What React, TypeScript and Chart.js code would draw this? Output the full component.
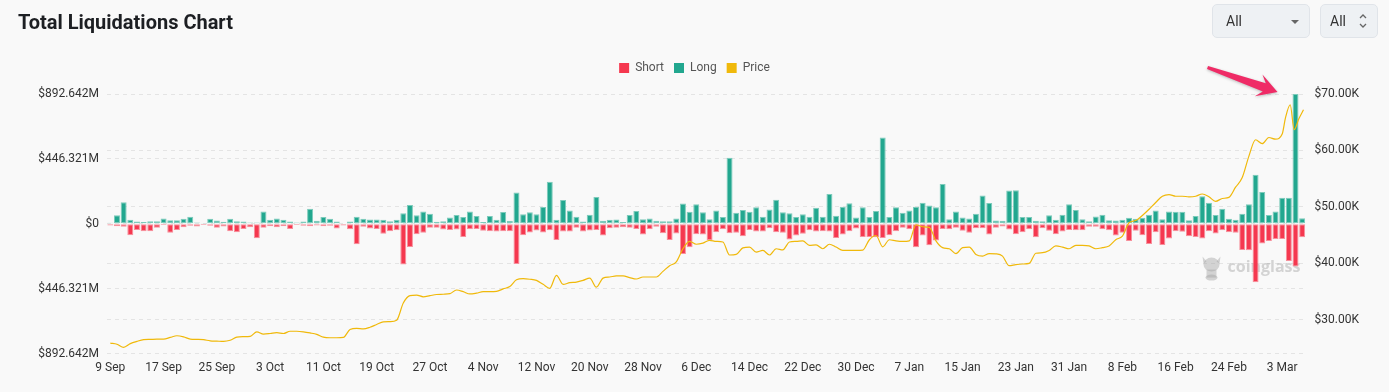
import React, { useEffect, useRef } from 'react';
import { Chart, registerables } from 'chart.js';

Chart.register(...registerables);

const MONTHS = ['Jan', 'Feb', 'Mar', 'Apr', 'May', 'Jun', 'Jul', 'Aug', 'Sep', 'Oct', 'Nov', 'Dec'];
const DAY_COUNT = 180;
// Categories: 9 Sep 2023 .. 6 Mar 2024, one per day
const dates: string[] = Array.from({ length: DAY_COUNT }, (_, i) => {
  const d = new Date(2023, 8, 9 + i);
  return `${d.getDate()} ${MONTHS[d.getMonth()]}`;
});

// Long liquidations (USD millions)
const longs: number[] = [
  7, 58, 148, 28, 16, 12, 18, 18, 37, 25,
  25, 35, 48, 9, 5, 35, 23, 14, 35, 18,
  16, 9, 9, 85, 28, 37, 28, 16, 9, 16,
  104, 21, 46, 35, 16, 3, 16, 48, 35, 30,
  30, 28, 18, 28, 72, 129, 58, 85, 69, 14,
  18, 44, 60, 46, 85, 53, 12, 53, 28, 81,
  21, 215, 65, 79, 65, 116, 289, 28, 164, 92,
  48, 16, 62, 185, 21, 28, 30, 12, 60, 88,
  32, 37, 21, 18, 18, 37, 139, 83, 134, 79,
  32, 92, 46, 455, 76, 95, 83, 113, 48, 99,
  166, 79, 72, 46, 65, 48, 111, 48, 205, 55,
  118, 141, 44, 113, 46, 88, 594, 46, 113, 76,
  92, 118, 145, 125, 113, 273, 32, 85, 44, 37,
  69, 194, 143, 23, 21, 229, 231, 46, 46, 21,
  18, 58, 28, 62, 134, 95, 32, 18, 51, 62,
  25, 23, 28, 42, 35, 42, 62, 92, 32, 85,
  83, 83, 25, 53, 189, 145, 60, 104, 35, 28,
  69, 134, 337, 219, 60, 85, 180, 180, 892.642, 39,
];

// Short liquidations (USD millions, drawn below zero)
const shorts: number[] = [
  12, 16, 21, 78, 42, 51, 51, 28, 9, 62,
  42, 23, 14, 18, 9, 14, 28, 18, 51, 58,
  35, 23, 99, 28, 16, 23, 16, 35, 9, 14,
  16, 12, 16, 14, 32, 12, 37, 141, 21, 32,
  35, 69, 51, 44, 280, 159, 72, 62, 28, 28,
  39, 42, 39, 90, 37, 35, 48, 51, 53, 51,
  51, 277, 78, 60, 46, 60, 44, 111, 53, 53,
  28, 53, 46, 42, 81, 30, 28, 23, 28, 35,
  74, 37, 21, 65, 111, 67, 208, 162, 72, 74,
  113, 58, 37, 65, 62, 85, 42, 53, 53, 30,
  58, 62, 108, 81, 69, 44, 53, 51, 53, 97,
  74, 51, 32, 90, 90, 92, 97, 78, 51, 28,
  37, 162, 81, 148, 115, 35, 37, 28, 48, 62,
  30, 30, 74, 28, 18, 39, 72, 58, 37, 92,
  30, 48, 72, 53, 42, 44, 44, 21, 21, 37,
  44, 81, 62, 118, 48, 78, 139, 58, 146, 101,
  51, 55, 85, 90, 101, 51, 67, 44, 58, 62,
  180, 182, 402, 136, 118, 104, 104, 256, 293, 92,
];

// BTC price (USD thousands), one value per day from 9 Sep
const priceDaily: number[] = [
  25.9, 25.7, 25.15, 25.8, 26.2, 26.5, 26.55, 26.6, 26.6, 26.9,
  27.2, 27.0, 26.6, 26.55, 26.5, 26.3, 26.25, 26.2, 26.4, 26.95,
  27.05, 27.1, 27.9, 27.5, 27.6, 27.75, 27.6, 28.0, 28.0, 27.9,
  27.7, 27.45, 26.95, 26.85, 26.85, 26.9, 28.3, 28.5, 28.4, 28.7,
  29.2, 29.65, 29.7, 29.95, 33.0, 34.3, 34.4, 34.1, 34.3, 34.5,
  34.55, 34.65, 35.3, 35.0, 34.6, 34.75, 35.0, 35.0, 35.05, 35.5,
  35.9, 37.1, 37.3, 37.2, 37.0, 36.3, 35.6, 37.9, 36.3, 36.6,
  36.7, 37.0, 37.4, 35.8, 37.4, 37.6, 37.8, 37.8, 37.5, 37.25,
  37.6, 37.6, 37.6, 38.6, 39.6, 40.3, 42.6, 43.9, 43.4, 43.6,
  44.1, 43.9, 43.8, 41.5, 41.6, 42.75, 42.9, 42.0, 42.3, 41.5,
  42.6, 42.4, 43.8, 43.9, 44.0, 43.2, 43.3, 42.6, 43.4, 42.9,
  42.3, 42.3, 42.3, 42.35, 44.2, 44.95, 42.95, 44.2, 44.0, 43.9,
  44.0, 46.85, 46.5, 46.4, 44.0, 42.8, 42.6, 41.75, 42.8, 42.9,
  41.6, 41.3, 41.75, 41.7, 41.3, 39.6, 39.8, 39.9, 40.0, 41.8,
  41.9, 42.3, 43.1, 42.9, 42.6, 43.2, 43.2, 43.1, 42.6, 42.8,
  43.1, 44.2, 44.85, 47.2, 47.6, 48.5, 49.6, 50.8, 51.9, 52.2,
  51.9, 51.9, 51.8, 51.9, 52.3, 51.8, 51.0, 51.5, 51.7, 53.5,
  55.2, 59.0, 61.9, 61.2, 62.3, 62.0, 62.9,
];
// Intraday points for the last days (day offset from 9 Sep, price in K)
const priceLateDay: number[] = [176.5, 177.2, 177.8, 178.5, 179.2];
const priceLateValue: number[] = [65.8, 68.1, 63.7, 65.6, 67.2];

const liqTicks: number[] = [-892.642, -446.321, 0, 446.321, 892.642];
const priceTicks: number[] = [30, 40, 50, 60, 70];
const priceMin = 24.04;
const priceMax = 70;

const SHORT_COLOR = '#f5384f';
const SHORT_EDGE = '#f7909c';
const LONG_COLOR = '#22a78f';
const LONG_EDGE = '#7dcbbb';
const PRICE_COLOR = '#f0b90b';
const FONT = 'Roboto, "Noto Sans", sans-serif';

export default function App() {
  const ref = useRef<HTMLCanvasElement | null>(null);

  useEffect(() => {
    document.body.style.margin = '0';
    document.body.style.background = '#f9f9f9';
    const canvas = ref.current;
    if (!canvas) return;

    const pricePoints = [
      ...priceDaily.map((v, i) => ({ x: i, y: v })),
      ...priceLateDay.map((d, i) => ({ x: d, y: priceLateValue[i] })),
    ];

    const legendSpacer = {
      id: 'legendSpacer',
      beforeInit(chart: any) {
        const legend = chart.legend;
        if (!legend) return;
        const origFit = legend.fit;
        legend.fit = function fit() {
          origFit.bind(legend)();
          this.height += 10;
        };
      },
    };

    const watermark = {
      id: 'watermark',
      beforeDatasetsDraw(chart: any) {
        const { ctx, chartArea } = chart;
        const x = chartArea.right - 105;
        const y = chartArea.bottom - 86;
        ctx.save();
        ctx.fillStyle = 'rgba(165,165,165,0.45)';
        ctx.beginPath();
        ctx.ellipse(x + 11, y - 3, 8, 7, 0, 0, Math.PI * 2);
        ctx.fill();
        ctx.beginPath();
        ctx.moveTo(x + 2, y - 11);
        ctx.lineTo(x + 6, y - 6);
        ctx.lineTo(x + 3, y - 4);
        ctx.closePath();
        ctx.fill();
        ctx.beginPath();
        ctx.moveTo(x + 20, y - 11);
        ctx.lineTo(x + 16, y - 6);
        ctx.lineTo(x + 19, y - 4);
        ctx.closePath();
        ctx.fill();
        ctx.fillRect(x + 6, y + 2, 10, 8);
        ctx.beginPath();
        ctx.ellipse(x + 11, y + 10, 6, 3, 0, 0, Math.PI * 2);
        ctx.fill();
        ctx.font = 'bold 16px "Open Sans", sans-serif';
        ctx.textBaseline = 'middle';
        ctx.textAlign = 'left';
        ctx.fillText('coinglass', x + 27, y);
        ctx.restore();
      },
    };

    const arrow = {
      id: 'arrow',
      afterDraw(chart: any) {
        const { ctx, chartArea } = chart;
        const meta = chart.getDatasetMeta(1);
        let maxIdx = 0;
        longs.forEach((v, i) => {
          if (v > longs[maxIdx]) maxIdx = i;
        });
        const el = meta.data[maxIdx];
        if (!el) return;
        const tipX = el.x - 18;
        const tipY = chartArea.top - 2;
        const tailX = el.x - 88;
        const tailY = chartArea.top - 26.5;
        const dx = tipX - tailX;
        const dy = tipY - tailY;
        const L = Math.hypot(dx, dy);
        const ux = dx / L;
        const uy = dy / L;
        const nx = -uy;
        const ny = ux;
        const p = (a: number, b: number) => [tipX - ux * a + nx * b, tipY - uy * a + ny * b];
        ctx.save();
        ctx.shadowColor = 'rgba(0,0,0,0.25)';
        ctx.shadowBlur = 3;
        ctx.shadowOffsetY = 1;
        ctx.fillStyle = '#ef2b66';
        ctx.beginPath();
        ctx.moveTo(tailX + nx * 1.5, tailY + ny * 1.5);
        let q = p(14, 4.5);
        ctx.lineTo(q[0], q[1]);
        q = p(20, 11.5);
        ctx.lineTo(q[0], q[1]);
        ctx.lineTo(tipX, tipY);
        q = p(20, -11.5);
        ctx.lineTo(q[0], q[1]);
        q = p(14, -4.5);
        ctx.lineTo(q[0], q[1]);
        ctx.lineTo(tailX - nx * 1.5, tailY - ny * 1.5);
        ctx.closePath();
        ctx.fill();
        ctx.restore();
      },
    };

    const chart = new Chart(canvas, {
      type: 'bar',
      data: {
        labels: dates,
        datasets: [
          {
            type: 'bar',
            label: 'Short',
            data: shorts.map((v) => -v),
            backgroundColor: SHORT_COLOR,
            borderColor: SHORT_EDGE,
            borderWidth: 1,
            borderSkipped: false,
            grouped: false,
            categoryPercentage: 1,
            barPercentage: 0.9,
            yAxisID: 'y',
            xAxisID: 'x',
            order: 1,
          },
          {
            type: 'bar',
            label: 'Long',
            data: longs,
            backgroundColor: LONG_COLOR,
            borderColor: LONG_EDGE,
            borderWidth: 1,
            borderSkipped: false,
            grouped: false,
            categoryPercentage: 1,
            barPercentage: 0.9,
            yAxisID: 'y',
            xAxisID: 'x',
            order: 1,
          },
          {
            type: 'line',
            label: 'Price',
            data: pricePoints as any,
            borderColor: PRICE_COLOR,
            backgroundColor: PRICE_COLOR,
            borderWidth: 1.2,
            pointRadius: 0,
            cubicInterpolationMode: 'monotone',
            yAxisID: 'y1',
            xAxisID: 'x2',
            order: 0,
          },
        ],
      },
      options: {
        responsive: false,
        animation: false,
        events: [],
        layout: { padding: { top: 52, bottom: 10, left: 0, right: 0 } },
        plugins: {
          tooltip: { enabled: false },
          legend: {
            position: 'top',
            align: 'center',
            labels: {
              boxWidth: 10,
              boxHeight: 10,
              padding: 10,
              color: '#555',
              font: { family: FONT, size: 12 },
              generateLabels: (ch: any) =>
                ch.data.datasets.map((ds: any, i: number) => ({
                  text: ds.label,
                  fillStyle: ds.backgroundColor,
                  strokeStyle: ds.backgroundColor,
                  lineWidth: 0,
                  hidden: false,
                  datasetIndex: i,
                  fontColor: '#555',
                })),
            },
          },
        },
        scales: {
          x: {
            type: 'category',
            stacked: true,
            offset: true,
            grid: { display: false, drawTicks: false },
            border: { display: false },
            ticks: {
              autoSkip: false,
              maxRotation: 0,
              minRotation: 0,
              padding: 7,
              color: '#333',
              font: { family: FONT, size: 12 },
              callback: (_v: any, i: number) => (i % 8 === 0 ? dates[i] : ''),
            },
          },
          x2: {
            type: 'linear',
            display: false,
            offset: false,
            min: -0.5,
            max: DAY_COUNT - 0.5,
          },
          y: {
            type: 'linear',
            position: 'left',
            stacked: true,
            min: liqTicks[0],
            max: liqTicks[liqTicks.length - 1],
            afterBuildTicks: (s: any) => {
              s.ticks = liqTicks.map((v) => ({ value: v }));
            },
            afterFit: (s: any) => {
              s.width = 107;
            },
            grid: { color: '#e4e4e4', drawTicks: false, lineWidth: 1 },
            border: { display: false, dash: [4, 4] },
            ticks: {
              padding: 8,
              color: '#333',
              font: { family: FONT, size: 12 },
              callback: (v: any) => (Number(v) === 0 ? '$0' : `$${Math.abs(Number(v)).toFixed(3)}M`),
            },
          },
          y1: {
            type: 'linear',
            position: 'right',
            min: priceMin,
            max: priceMax,
            afterBuildTicks: (s: any) => {
              s.ticks = priceTicks.map((v) => ({ value: v }));
            },
            afterFit: (s: any) => {
              s.width = 83.5;
            },
            grid: { color: '#e4e4e4', drawTicks: false, lineWidth: 1 },
            border: { display: false, dash: [4, 4] },
            ticks: {
              padding: 9,
              color: '#333',
              font: { family: FONT, size: 12 },
              callback: (v: any) => `$${Number(v).toFixed(2)}K`,
            },
          },
        },
      },
      plugins: [legendSpacer, watermark, arrow],
    } as any);

    return () => chart.destroy();
  }, []);

  const selectBox: React.CSSProperties = {
    position: 'absolute',
    top: 4,
    height: 34,
    boxSizing: 'border-box',
    background: '#eef1f4',
    border: '1px solid #e0e4e9',
    borderRadius: 5,
    fontFamily: FONT,
    fontSize: 14,
    color: '#333',
    lineHeight: '32px',
  };

  return (
    <div style={{ position: 'relative', width: 1389, height: 392, background: '#f9f9f9', overflow: 'hidden' }}>
      <canvas ref={ref} width={1389} height={392} style={{ position: 'absolute', left: 0, top: 0, display: 'block' }} />
      <div
        style={{
          position: 'absolute',
          left: 18,
          top: 9.5,
          fontFamily: 'Roboto, "Noto Sans", sans-serif',
          fontWeight: 700,
          fontSize: 20,
          lineHeight: '24px',
          color: '#1d1f23',
        }}
      >
        Total Liquidations Chart
      </div>
      <div style={{ ...selectBox, left: 1212, width: 98 }}>
        <span style={{ position: 'absolute', left: 13 }}>All</span>
        <span
          style={{
            position: 'absolute',
            left: 78,
            top: 15,
            width: 0,
            height: 0,
            borderLeft: '4px solid transparent',
            borderRight: '4px solid transparent',
            borderTop: '4px solid #666',
          }}
        />
      </div>
      <div style={{ ...selectBox, left: 1320, width: 58 }}>
        <span style={{ position: 'absolute', left: 9 }}>All</span>
        <svg width="10" height="16" viewBox="0 0 10 16" style={{ position: 'absolute', left: 37, top: 8 }}>
          <polyline points="2,5 5,2 8,5" fill="none" stroke="#666" strokeWidth="1.3" />
          <polyline points="2,11 5,14 8,11" fill="none" stroke="#666" strokeWidth="1.3" />
        </svg>
      </div>
    </div>
  );
}
